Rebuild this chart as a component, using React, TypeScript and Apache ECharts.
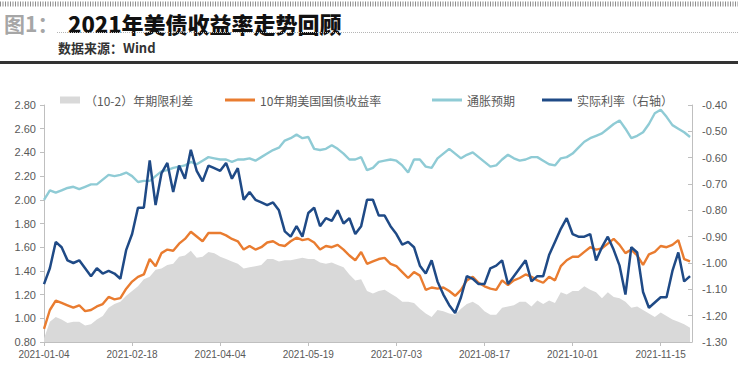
import React, { useEffect, useRef } from "react";
import * as echarts from "echarts";

const dates = [
  "2021-01-04", "2021-01-07", "2021-01-10", "2021-01-13", "2021-01-16", "2021-01-19", "2021-01-22", "2021-01-25", "2021-01-28", "2021-01-31",
  "2021-02-03", "2021-02-06", "2021-02-09", "2021-02-12", "2021-02-15", "2021-02-18", "2021-02-21", "2021-02-24", "2021-02-27", "2021-03-02",
  "2021-03-05", "2021-03-08", "2021-03-11", "2021-03-14", "2021-03-17", "2021-03-20", "2021-03-23", "2021-03-26", "2021-03-29", "2021-04-01",
  "2021-04-04", "2021-04-07", "2021-04-10", "2021-04-13", "2021-04-16", "2021-04-19", "2021-04-22", "2021-04-25", "2021-04-28", "2021-05-01",
  "2021-05-04", "2021-05-07", "2021-05-10", "2021-05-13", "2021-05-16", "2021-05-19", "2021-05-22", "2021-05-25", "2021-05-28", "2021-05-31",
  "2021-06-03", "2021-06-06", "2021-06-09", "2021-06-12", "2021-06-15", "2021-06-18", "2021-06-21", "2021-06-24", "2021-06-27", "2021-06-30",
  "2021-07-03", "2021-07-06", "2021-07-09", "2021-07-12", "2021-07-15", "2021-07-18", "2021-07-21", "2021-07-24", "2021-07-27", "2021-07-30",
  "2021-08-02", "2021-08-05", "2021-08-08", "2021-08-11", "2021-08-14", "2021-08-17", "2021-08-20", "2021-08-23", "2021-08-26", "2021-08-29",
  "2021-09-01", "2021-09-04", "2021-09-07", "2021-09-10", "2021-09-13", "2021-09-16", "2021-09-19", "2021-09-22", "2021-09-25", "2021-09-28",
  "2021-10-01", "2021-10-04", "2021-10-07", "2021-10-10", "2021-10-13", "2021-10-16", "2021-10-19", "2021-10-22", "2021-10-25", "2021-10-28",
  "2021-10-31", "2021-11-03", "2021-11-06", "2021-11-09", "2021-11-12", "2021-11-15", "2021-11-18", "2021-11-21", "2021-11-24", "2021-11-27",
  "2021-11-30",
];

// (10-2) term spread, left axis
const spread = [
  0.83, 0.97, 1.01, 0.99, 0.96, 0.97, 0.97, 0.94, 0.95, 0.99,
  1.02, 1.09, 1.12, 1.14, 1.19, 1.23, 1.27, 1.33, 1.35, 1.41,
  1.42, 1.45, 1.46, 1.52, 1.53, 1.57, 1.51, 1.52, 1.56, 1.55,
  1.52, 1.50, 1.48, 1.46, 1.42, 1.43, 1.44, 1.45, 1.50, 1.50,
  1.48, 1.49, 1.49, 1.50, 1.51, 1.50, 1.50, 1.47, 1.46, 1.47,
  1.45, 1.43, 1.37, 1.32, 1.33, 1.23, 1.21, 1.23, 1.24, 1.21,
  1.18, 1.14, 1.14, 1.13, 1.08, 1.04, 1.01, 1.07, 1.06, 1.04,
  1.03, 1.08, 1.12, 1.14, 1.11, 1.06, 1.03, 1.03, 1.09, 1.10,
  1.11, 1.14, 1.14, 1.10, 1.15, 1.12, 1.15, 1.13, 1.22, 1.20,
  1.23, 1.23, 1.27, 1.24, 1.22, 1.17, 1.22, 1.18, 1.17, 1.14,
  1.09, 1.10, 1.07, 1.04, 1.01, 1.05, 1.02, 0.99, 0.97, 0.95,
  0.92,
];

// 10-year US Treasury yield, left axis
const yield10y = [
  0.91, 1.07, 1.15, 1.13, 1.11, 1.09, 1.11, 1.06, 1.07, 1.10,
  1.12, 1.18, 1.16, 1.17, 1.25, 1.31, 1.35, 1.37, 1.50, 1.44,
  1.55, 1.58, 1.57, 1.63, 1.67, 1.73, 1.69, 1.65, 1.72, 1.72,
  1.72, 1.70, 1.67, 1.65, 1.58, 1.61, 1.58, 1.60, 1.64, 1.65,
  1.62, 1.61, 1.65, 1.68, 1.66, 1.67, 1.64, 1.58, 1.61, 1.60,
  1.62, 1.58, 1.53, 1.49, 1.56, 1.46, 1.48, 1.50, 1.51, 1.46,
  1.44, 1.39, 1.34, 1.39, 1.36, 1.24, 1.26, 1.25, 1.26, 1.23,
  1.19, 1.24, 1.32, 1.35, 1.30, 1.27, 1.25, 1.24, 1.32, 1.28,
  1.32, 1.34, 1.37, 1.35, 1.32, 1.30, 1.35, 1.32, 1.44, 1.49,
  1.52, 1.52, 1.56, 1.60, 1.58, 1.59, 1.63, 1.67, 1.62, 1.55,
  1.58, 1.53, 1.45, 1.54, 1.56, 1.61, 1.60, 1.62, 1.66, 1.50,
  1.48,
];

// Inflation expectation (breakeven), left axis
const breakeven = [
  2.00, 2.08, 2.06, 2.08, 2.10, 2.11, 2.09, 2.11, 2.13, 2.13,
  2.17, 2.21, 2.20, 2.21, 2.23, 2.20, 2.15, 2.16, 2.16, 2.20,
  2.24, 2.25, 2.27, 2.28, 2.29, 2.32, 2.30, 2.33, 2.36, 2.35,
  2.34, 2.34, 2.32, 2.34, 2.34, 2.35, 2.33, 2.36, 2.39, 2.42,
  2.44, 2.50, 2.52, 2.55, 2.52, 2.53, 2.43, 2.42, 2.43, 2.46,
  2.43, 2.39, 2.34, 2.34, 2.36, 2.25, 2.27, 2.32, 2.33, 2.34,
  2.33, 2.29, 2.23, 2.34, 2.34, 2.28, 2.27, 2.35, 2.39, 2.43,
  2.39, 2.35, 2.38, 2.40, 2.36, 2.32, 2.28, 2.29, 2.34, 2.38,
  2.35, 2.33, 2.34, 2.36, 2.36, 2.33, 2.30, 2.29, 2.35, 2.36,
  2.39, 2.44, 2.49, 2.52, 2.54, 2.56, 2.60, 2.64, 2.67, 2.60,
  2.52, 2.54, 2.57, 2.64, 2.73, 2.76, 2.70, 2.63, 2.60, 2.57,
  2.53,
];

// Real rate, right axis
const realRate = [
  -1.08, -1.02, -0.92, -0.94, -0.99, -1.00, -0.99, -1.02, -1.05, -1.02,
  -1.04, -1.03, -1.04, -1.06, -0.95, -0.89, -0.79, -0.79, -0.61, -0.78,
  -0.66, -0.62, -0.73, -0.63, -0.68, -0.57, -0.65, -0.69, -0.63, -0.64,
  -0.65, -0.62, -0.68, -0.64, -0.76, -0.73, -0.76, -0.77, -0.78, -0.77,
  -0.80, -0.88, -0.90, -0.86, -0.90, -0.81, -0.79, -0.86, -0.83, -0.84,
  -0.80, -0.85, -0.83, -0.89, -0.86, -0.76, -0.76, -0.82, -0.82, -0.86,
  -0.89, -0.93, -0.92, -0.94, -1.01, -1.04, -0.99, -1.07, -1.12, -1.16,
  -1.19, -1.13, -1.05, -1.06, -1.08, -1.08, -1.02, -1.01, -0.99, -1.08,
  -1.05, -1.02, -0.99, -1.07, -1.05, -1.05, -0.97, -0.92, -0.87, -0.83,
  -0.89, -0.90, -0.90, -0.89, -0.99, -0.94, -0.90, -0.95, -1.01, -1.12,
  -0.94, -0.96, -1.11, -1.17, -1.15, -1.13, -1.13, -1.03, -0.96, -1.07,
  -1.05,
];

const seriesNames = ["（10-2）年期限利差", "10年期美国国债收益率", "通胀预期", "实际利率（右轴）"];
const seriesColors = ["#d9d9d9", "#e97c30", "#8fcbd5", "#1f4a86"];
const leftRange = [0.8, 2.8, 0.2];
const rightRange = [-1.3, -0.4, 0.1];
const tickDays = 45;

const BASE = Date.UTC(2021, 0, 4);
const DAY = 86400000;
const dayOf = (s: string) => Math.round((Date.parse(s + "T00:00:00Z") - BASE) / DAY);
const pairs = (vals: number[]) => dates.map((d, i) => [dayOf(d), vals[i]]);
const fmtDay = (v: number) => new Date(BASE + v * DAY).toISOString().slice(0, 10);

const NUM = "'Liberation Sans', 'Noto Sans CJK SC', sans-serif";
const CJK = "'Noto Sans CJK SC', 'Liberation Sans', sans-serif";

export default function App() {
  const ref = useRef<HTMLDivElement>(null);
  useEffect(() => {
    if (!ref.current) return;
    const chart = echarts.init(ref.current, undefined, { renderer: "svg" });
    const axisGray = "#bfbfbf";
    const labelGray = "#595959";
    const legendText = { color: labelGray, fontSize: 12, fontFamily: CJK };
    const lastDay = dayOf(dates[dates.length - 1]) + 1;
    chart.setOption({
      animation: false,
      backgroundColor: "#ffffff",
      graphic: [
        { type: "line", shape: { x1: 0, y1: 4, x2: 738, y2: 4 }, style: { stroke: "#8c8c8c", lineWidth: 5, lineDash: [1, 1.5] } },
        { type: "text", x: 4, y: 23, style: { text: "图1：", fontSize: 21, fontWeight: "bold", fontFamily: CJK, fill: "#a6a6a6", verticalAlign: "middle" } },
        { type: "text", x: 68, y: 23, style: { text: "2021年美债收益率走势回顾", fontSize: 22, fontWeight: 900, fontFamily: CJK, fill: "#111111", verticalAlign: "middle" } },
        { type: "line", shape: { x1: 57, y1: 32.5, x2: 738, y2: 32.5 }, style: { stroke: "#b5b5b5", lineWidth: 1, lineDash: [1, 1] } },
        { type: "text", x: 58, y: 47, style: { text: "数据来源：Wind", fontSize: 13, fontWeight: "bold", fontFamily: CJK, fill: "#333333", verticalAlign: "middle" } },
        { type: "line", shape: { x1: 0, y1: 62.5, x2: 738, y2: 62.5 }, style: { stroke: "#333333", lineWidth: 3 } },
      ],
      legend: [
        { left: 55, top: 89, data: [{ name: seriesNames[0], icon: "rect" }], itemWidth: 20, itemHeight: 7, textStyle: legendText },
        { left: 220, top: 89, data: [{ name: seriesNames[1], icon: "rect" }], itemWidth: 30, itemHeight: 3, textStyle: legendText },
        { left: 427, top: 89, data: [{ name: seriesNames[2], icon: "rect" }], itemWidth: 30, itemHeight: 3, textStyle: legendText },
        { left: 537, top: 89, data: [{ name: seriesNames[3], icon: "rect" }], itemWidth: 30, itemHeight: 3, textStyle: legendText },
      ],
      grid: { left: 44, right: 46, top: 105, bottom: 25 },
      xAxis: {
        type: "value",
        min: 0,
        max: lastDay,
        interval: tickDays,
        splitLine: { show: false },
        axisLine: { show: true, lineStyle: { color: axisGray } },
        axisTick: { show: true, length: 4, lineStyle: { color: axisGray } },
        axisLabel: {
          formatter: (v: number) => (v % tickDays === 0 ? fmtDay(v) : ""),
          color: labelGray,
          fontSize: 10,
          fontFamily: NUM,
          margin: 7,
          showMaxLabel: false,
        },
      },
      yAxis: [
        {
          type: "value",
          min: leftRange[0],
          max: leftRange[1],
          interval: leftRange[2],
          position: "left",
          splitLine: { show: false },
          axisLine: { show: true, lineStyle: { color: axisGray } },
          axisTick: { show: true, length: 4, lineStyle: { color: axisGray } },
          axisLabel: { formatter: (v: number) => v.toFixed(2), color: labelGray, fontSize: 11, fontFamily: NUM, margin: 8 },
        },
        {
          type: "value",
          min: rightRange[0],
          max: rightRange[1],
          interval: rightRange[2],
          position: "right",
          splitLine: { show: false },
          axisLine: { show: true, lineStyle: { color: axisGray } },
          axisTick: { show: true, inside: true, length: 4, lineStyle: { color: axisGray } },
          axisLabel: { formatter: (v: number) => v.toFixed(2), color: labelGray, fontSize: 11, fontFamily: NUM, margin: 10 },
        },
      ],
      series: [
        {
          name: seriesNames[0],
          type: "line",
          yAxisIndex: 0,
          data: pairs(spread),
          symbol: "none",
          lineStyle: { width: 0 },
          itemStyle: { color: seriesColors[0] },
          areaStyle: { color: seriesColors[0], opacity: 1, origin: "start" },
          z: 1,
        },
        {
          name: seriesNames[1],
          type: "line",
          yAxisIndex: 0,
          data: pairs(yield10y),
          symbol: "none",
          lineStyle: { width: 2.4, color: seriesColors[1] },
          itemStyle: { color: seriesColors[1] },
          z: 2,
        },
        {
          name: seriesNames[2],
          type: "line",
          yAxisIndex: 0,
          data: pairs(breakeven),
          symbol: "none",
          lineStyle: { width: 2.4, color: seriesColors[2] },
          itemStyle: { color: seriesColors[2] },
          z: 3,
        },
        {
          name: seriesNames[3],
          type: "line",
          yAxisIndex: 1,
          data: pairs(realRate),
          symbol: "none",
          lineStyle: { width: 2.5, color: seriesColors[3] },
          itemStyle: { color: seriesColors[3] },
          z: 4,
        },
      ],
    });
    return () => chart.dispose();
  }, []);
  return <div ref={ref} style={{ position: "fixed", left: 0, top: 0, width: 738, height: 367 }} />;
}
